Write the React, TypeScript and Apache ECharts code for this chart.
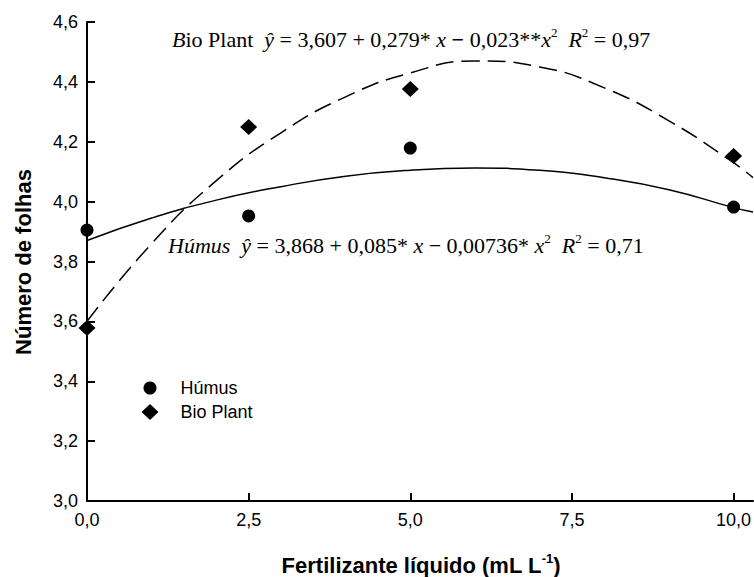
import React, { useEffect, useRef } from "react";
import * as echarts from "echarts";

// Observed data points
const doses = [0, 2.5, 5, 10];
const humusPoints = [3.905, 3.952, 4.179, 3.982];
const bioPlantPoints = [3.578, 4.249, 4.376, 4.152];

// Fitted curves
const curveX = [0, 1, 2, 3, 4, 5, 6, 7, 8, 9, 10, 10.3];
const humusCurve = [3.87, 3.945, 4.005, 4.05, 4.085, 4.105, 4.112, 4.105, 4.08, 4.04, 3.98, 3.965];
const bioPlantCurve = [3.6, 3.86, 4.07, 4.23, 4.35, 4.43, 4.47, 4.45, 4.38, 4.27, 4.13, 4.08];

const xTicks = [0, 2.5, 5, 7.5, 10];

const SANS = '"Liberation Sans", Arial, sans-serif';
const SERIF = '"Liberation Serif", "Times New Roman", serif';

const fmt = (v: number) => v.toFixed(1).replace(".", ",");

export default function App() {
  const ref = useRef<HTMLDivElement>(null);
  useEffect(() => {
    if (!ref.current) return;
    const chart = echarts.init(ref.current, undefined, { renderer: "svg" });
    const eqFont = 22;
    const eqRich = {
      i: { fontFamily: SERIF, fontSize: eqFont, fontStyle: "italic", fill: "#000", lineHeight: 26 },
      n: { fontFamily: SERIF, fontSize: eqFont, fill: "#000", lineHeight: 26 },
      m: { fontFamily: SERIF, fontSize: eqFont, fontWeight: "bold", fill: "#000", lineHeight: 26 },
      s: { fontFamily: SERIF, fontSize: 13, fill: "#000", lineHeight: 13, verticalAlign: "top" },
    };
    const option: any = {
      animation: false,
      backgroundColor: "#fff",
      grid: { left: 87, right: 1, top: 22, bottom: 76, containLabel: false, outerBoundsMode: "none" },
      xAxis: {
        type: "value",
        min: 0,
        max: 10.3,
        axisLine: { show: true, onZero: false, lineStyle: { color: "#000", width: 2 } },
        axisTick: { show: true, inside: true, length: 8, customValues: xTicks, lineStyle: { color: "#000", width: 2 } },
        axisLabel: { customValues: xTicks, formatter: (v: number) => fmt(v), color: "#000", fontSize: 18, fontFamily: SANS, margin: 10 },
        splitLine: { show: false },
      },
      yAxis: {
        type: "value",
        min: 3,
        max: 4.6,
        interval: 0.2,
        axisLine: { show: true, onZero: false, lineStyle: { color: "#000", width: 2 } },
        axisTick: { show: true, inside: true, length: 8, lineStyle: { color: "#000", width: 2 } },
        axisLabel: { formatter: (v: number) => fmt(v), color: "#000", fontSize: 18, fontFamily: SANS, margin: 9 },
        splitLine: { show: false },
      },
      legend: [
        {
          data: [{ name: "Húmus", icon: "circle" }],
          orient: "vertical",
          left: 138.5,
          top: 374,
          itemWidth: 13,
          itemHeight: 13,
          selectedMode: false,
          textStyle: { fontSize: 18, color: "#000", fontFamily: SANS, lineHeight: 18, padding: [0, 0, 0, 19] },
        },
        {
          data: [{ name: "Bio Plant", icon: "diamond" }],
          orient: "vertical",
          left: 136.5,
          top: 398,
          itemWidth: 17,
          itemHeight: 16,
          selectedMode: false,
          textStyle: { fontSize: 18, color: "#000", fontFamily: SANS, lineHeight: 18, padding: [0, 0, 0, 17] },
        },
      ],
      series: [
        {
          name: "Húmus fit",
          type: "line",
          data: curveX.map((x, i) => [x, humusCurve[i]]),
          smooth: true,
          showSymbol: false,
          symbol: "none",
          silent: true,
          lineStyle: { color: "#000", width: 1.5 },
          z: 2,
        },
        {
          name: "Bio Plant fit",
          type: "line",
          data: curveX.map((x, i) => [x, bioPlantCurve[i]]),
          smooth: true,
          showSymbol: false,
          symbol: "none",
          silent: true,
          lineStyle: { color: "#000", width: 1.5, type: [18, 8] },
          z: 2,
        },
        {
          name: "Húmus",
          type: "scatter",
          data: doses.map((x, i) => [x, humusPoints[i]]),
          symbol: "circle",
          symbolSize: 13,
          itemStyle: { color: "#000", opacity: 1 },
          z: 3,
        },
        {
          name: "Bio Plant",
          type: "scatter",
          data: doses.map((x, i) => [x, bioPlantPoints[i]]),
          symbol: "diamond",
          symbolSize: [17, 16],
          itemStyle: { color: "#000", opacity: 1 },
          z: 3,
        },
      ],
      graphic: [
        {
          type: "text",
          x: 172,
          y: 39,
          style: {
            text: "{i|B}{n|io Plant  }{i|ŷ}{n| = 3,607 + 0,279* }{i|x}{m| − }{n|0,023**}{i|x}{s|2}{n|  }{i|R}{s|2}{n| = 0,97}",
            rich: eqRich,
            align: "left",
            verticalAlign: "middle",
          },
        },
        {
          type: "text",
          x: 168,
          y: 245,
          style: {
            text: "{i|Húmus}{n|  }{i|ŷ}{n| = 3,868 + 0,085* }{i|x}{n| − 0,00736* }{i|x}{s|2}{n|  }{i|R}{s|2}{n| = 0,71}",
            rich: eqRich,
            align: "left",
            verticalAlign: "middle",
          },
        },
        {
          type: "text",
          x: 421,
          y: 565,
          style: {
            text: "{b|Fertilizante líquido (mL L}{s|-1}{b|)}",
            rich: {
              b: { fontFamily: SANS, fontSize: 22, fontWeight: "bold", fill: "#000", lineHeight: 26 },
              s: { fontFamily: SANS, fontSize: 13, fontWeight: "bold", fill: "#000", lineHeight: 13, verticalAlign: "top" },
            },
            align: "center",
            verticalAlign: "middle",
          },
        },
        {
          type: "text",
          x: 23,
          y: 262,
          rotation: Math.PI / 2,
          style: {
            text: "Número de folhas",
            fontFamily: SANS,
            fontSize: 22,
            fontWeight: "bold",
            fill: "#000",
            align: "center",
            verticalAlign: "middle",
          },
        },
      ],
    };
    chart.setOption(option);
    return () => chart.dispose();
  }, []);
  return (
    <div
      ref={ref}
      style={{ position: "absolute", left: 0, top: 0, width: 754, height: 577, background: "#fff" }}
    />
  );
}
